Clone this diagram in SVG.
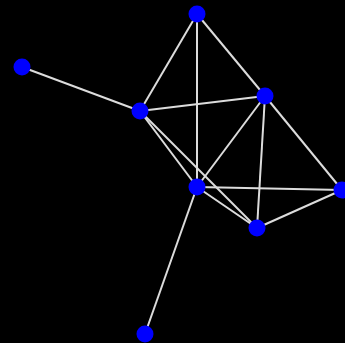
<svg xmlns="http://www.w3.org/2000/svg" width="345" height="343" viewBox="0 0 345 343">
<style>
.e{stroke:#dcdcdc;stroke-width:2;fill:none}
.n{fill:#0000ff}
</style>
<rect width="345" height="343" fill="#000"/>
<g id="edges">
<line class="e" x1="197" y1="14" x2="140" y2="111"/>
<line class="e" x1="197" y1="14" x2="197" y2="187"/>
<line class="e" x1="197" y1="14" x2="265" y2="96"/>
<line class="e" x1="22" y1="67" x2="140" y2="111"/>
<line class="e" x1="140" y1="111" x2="265" y2="96"/>
<line class="e" x1="140" y1="111" x2="197" y2="187"/>
<line class="e" x1="140" y1="111" x2="257" y2="228"/>
<line class="e" x1="265" y1="96" x2="197" y2="187"/>
<line class="e" x1="265" y1="96" x2="257" y2="228"/>
<line class="e" x1="265" y1="96" x2="342" y2="190"/>
<line class="e" x1="197" y1="187" x2="342" y2="190"/>
<line class="e" x1="197" y1="187" x2="257" y2="228"/>
<line class="e" x1="197" y1="187" x2="145" y2="334"/>
<line class="e" x1="257" y1="228" x2="342" y2="190"/>
</g>
<g id="nA"><circle class="n" cx="197" cy="14" r="8.5"/></g>
<g id="nB"><circle class="n" cx="22" cy="67" r="8.5"/></g>
<g id="nC"><circle class="n" cx="140" cy="111" r="8.5"/></g>
<g id="nD"><circle class="n" cx="265" cy="96" r="8.5"/></g>
<g id="nE"><circle class="n" cx="197" cy="187" r="8.5"/></g>
<g id="nF"><circle class="n" cx="342" cy="190" r="8.5"/></g>
<g id="nG"><circle class="n" cx="257" cy="228" r="8.5"/></g>
<g id="nH"><circle class="n" cx="145" cy="334" r="8.5"/></g>
</svg>
